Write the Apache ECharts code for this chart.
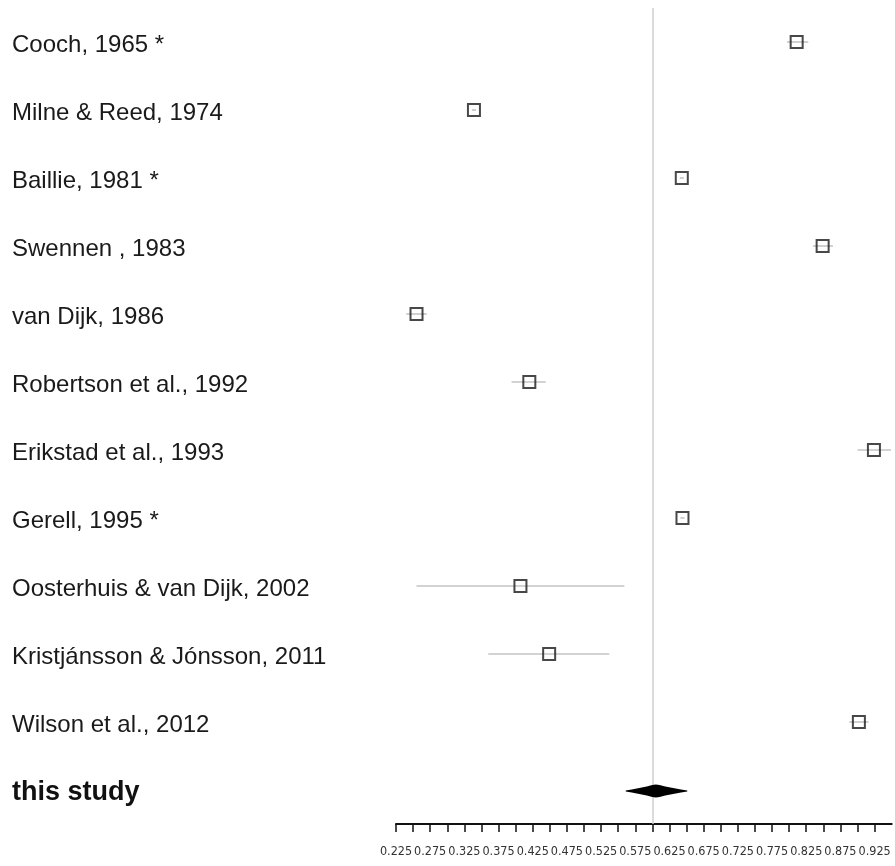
<!DOCTYPE html>
<html>
<head>
<meta charset="utf-8">
<script src="https://cdn.jsdelivr.net/npm/echarts@6/dist/echarts.min.js"></script>
<style>html,body{margin:0;padding:0;background:#fff;}#c{width:895px;height:866px;}</style>
</head>
<body>
<div id="c"></div>
<script>
var studies = ['Cooch, 1965 *','Milne & Reed, 1974','Baillie, 1981 *','Swennen , 1983','van Dijk, 1986','Robertson et al., 1992','Erikstad et al., 1993','Gerell, 1995 *','Oosterhuis & van Dijk, 2002','Kristjánsson & Jónsson, 2011','Wilson et al., 2012','this study'];
var estimates = [0.811,0.339,0.643,0.849,0.255,0.420,0.924,0.644,0.407,0.449,0.902];
var lowerCI  = [0.797,0.336,0.640,0.835,0.240,0.394,0.900,0.641,0.255,0.360,0.888];
var upperCI  = [0.828,0.342,0.646,0.864,0.270,0.444,0.949,0.647,0.559,0.537,0.916];
var pooled = {est:0.605, lo:0.561, hi:0.651};
var refLine = 0.605;
var axisMin = 0.225, axisMax = 0.95, tickStep = 0.025;

var chart = echarts.init(document.getElementById('c'));
var ciData = estimates.map(function(v,i){return [lowerCI[i], i, upperCI[i]];});
var ptData = estimates.map(function(v,i){return [v, i];});
var poolIdx = studies.length-1;

chart.setOption({
  animation:false,
  grid:{left:396, right:3.3, top:8, bottom:42, containLabel:false},
  xAxis:{type:'value', min:axisMin, max:axisMax, interval:tickStep,
    splitLine:{show:false},
    axisLine:{show:true, lineStyle:{color:'#111', width:2}},
    axisTick:{show:true, length:8, lineStyle:{color:'#111', width:1.5}},
    axisLabel:{show:true, margin:21, color:'#333', fontSize:12.5,
      fontFamily:"'Liberation Sans Narrow','DejaVu Sans Condensed','Liberation Sans',Arial,sans-serif",
      showMaxLabel:false, showMinLabel:true,
      formatter:function(v){
        var k = Math.round((v-axisMin)/tickStep);
        if (k%2!==0 || v>0.94) return '';
        return v.toFixed(3);
      }}
  },
  yAxis:{type:'category', inverse:true, data:studies,
    axisLine:{show:false}, axisTick:{show:false}, splitLine:{show:false},
    axisLabel:{margin:384, align:'left', color:'#1a1a1a', fontSize:24, padding:[6,0,0,0],
      fontFamily:"'Liberation Sans',Arial,sans-serif",
      formatter:function(v){ return v==='this study' ? '{b|'+v+'}' : v; },
      rich:{b:{fontWeight:'bold', fontSize:27, color:'#111', fontFamily:"'Liberation Sans',Arial,sans-serif"}}
    }
  },
  series:[
    {type:'custom', z:2, data:ciData, encode:{x:[0,2], y:1}, renderItem:function(params, api){
      var a = api.coord([api.value(0), api.value(1)]);
      var b = api.coord([api.value(2), api.value(1)]);
      return {type:'line', shape:{x1:a[0], y1:a[1], x2:b[0], y2:b[1]}, style:{stroke:'#c4c4c4', lineWidth:1.6}};
    }},
    {type:'scatter', z:3, data:ptData, symbol:'rect', symbolSize:12,
      itemStyle:{color:'rgba(255,255,255,0)', borderColor:'#1a1a1a', borderWidth:2},
      markLine:{silent:true, symbol:['none','none'], label:{show:false}, z:1,
        lineStyle:{color:'#cfcfcf', width:1.5, type:'solid'}, data:[{xAxis:refLine}]}
    },
    {type:'custom', z:4, data:[[pooled.est, poolIdx, pooled.lo, pooled.hi]], encode:{x:[0,2,3], y:1}, renderItem:function(params, api){
      var y = api.value(1);
      var mid = api.value(0), lo = api.value(2), hi = api.value(3);
      var L = api.coord([lo, y]), M = api.coord([mid, y]), H = api.coord([hi, y]);
      var cy = L[1] + 1;
      var wl = M[0]-L[0], wr = H[0]-M[0];
      var prof = [[0,0.6],[0.2,1.6],[0.45,3],[0.7,4.5],[0.88,6],[1,6.5]];
      var pts = [];
      prof.forEach(function(p){ pts.push([L[0]+p[0]*wl, cy-p[1]]); });
      prof.slice().reverse().forEach(function(p){ pts.push([H[0]-p[0]*wr, cy-p[1]]); });
      prof.forEach(function(p){ pts.push([H[0]-p[0]*wr, cy+p[1]]); });
      prof.slice().reverse().forEach(function(p){ pts.push([L[0]+p[0]*wl, cy+p[1]]); });
      return {type:'polygon', shape:{points:pts}, style:{fill:'#000'}};
    }}
  ]
});
</script>
</body>
</html>
